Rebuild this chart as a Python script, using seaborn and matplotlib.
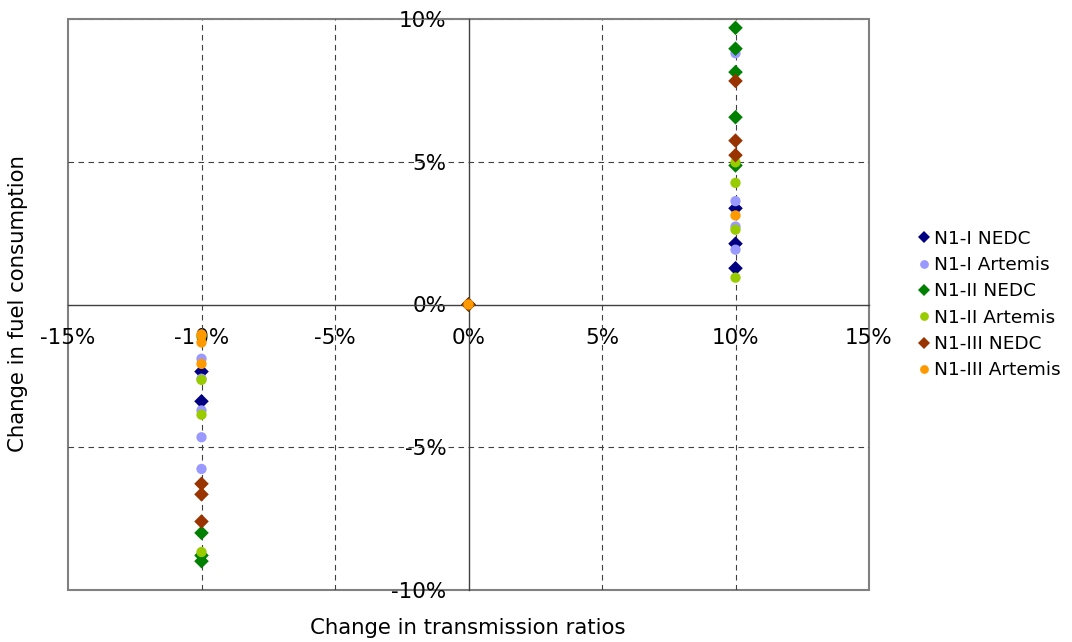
import numpy as np
import pandas as pd
import matplotlib
matplotlib.use("Agg")
import matplotlib.pyplot as plt
import seaborn as sns
from matplotlib.ticker import FuncFormatter

sns.set_style("white")
plt.rcParams['font.family'] = ['DejaVu Sans']
plt.rcParams['text.color'] = 'black'

series_names = ["N1-I NEDC", "N1-I Artemis", "N1-II NEDC", "N1-II Artemis", "N1-III NEDC", "N1-III Artemis"]
colors = ["#000080", "#9999FF", "#008000", "#99CC00", "#993300", "#FF9900"]
markers = ["D", "o", "D", "o", "D", "o"]

# x = change in transmission ratios (%), y = change in fuel consumption (%)
n1i_nedc_x = [-10, -10, 0, 10, 10, 10]
n1i_nedc_y = [-2.35, -3.39, 0.0, 3.37, 2.13, 1.27]
n1i_art_x = [-10, -10, -10, -10, -10, 0, 10, 10, 10, 10]
n1i_art_y = [-1.90, -2.60, -3.71, -4.65, -5.76, 0.0, 8.80, 3.62, 2.73, 1.92]
n1ii_nedc_x = [-10, -10, -10, 0, 10, 10, 10, 10, 10]
n1ii_nedc_y = [-8.00, -8.79, -8.99, 0.0, 9.69, 8.96, 8.14, 6.56, 4.87]
n1ii_art_x = [-10, -10, -10, -10, 0, 10, 10, 10, 10]
n1ii_art_y = [-1.10, -2.64, -3.86, -8.67, 0.0, 4.98, 4.26, 2.62, 0.94]
n1iii_nedc_x = [-10, -10, -10, 0, 10, 10, 10]
n1iii_nedc_y = [-6.28, -6.65, -7.60, 0.0, 7.83, 5.74, 5.23]
n1iii_art_x = [-10, -10, -10, 0, 10]
n1iii_art_y = [-1.05, -1.33, -2.08, 0.0, 3.12]

xs = [n1i_nedc_x, n1i_art_x, n1ii_nedc_x, n1ii_art_x, n1iii_nedc_x, n1iii_art_x]
ys = [n1i_nedc_y, n1i_art_y, n1ii_nedc_y, n1ii_art_y, n1iii_nedc_y, n1iii_art_y]

rows = []
for name, xv, yv in zip(series_names, xs, ys):
    for a, b in zip(xv, yv):
        rows.append({"x": a, "y": b, "series": name})
df = pd.DataFrame(rows)

fig = plt.figure(figsize=(10.72, 6.42), dpi=100)
ax = fig.add_axes([68/1072, 1 - 590/642, (869-68)/1072, (590-19)/642])

# grid
for v in [-10, -5, 5, 10]:
    ax.axvline(v, color="#404040", lw=0.8, ls=(0, (5, 4)), zorder=1)
for v in [-5, 5]:
    ax.axhline(v, color="#404040", lw=0.8, ls=(0, (5, 4)), zorder=1)
for v in [-10, 10]:
    ax.axhline(v, color="#808080", lw=0.8, ls=(0, (5, 4)), zorder=1)

sns.scatterplot(data=df, x="x", y="y", hue="series", style="series",
                hue_order=series_names, style_order=series_names,
                palette=dict(zip(series_names, colors)),
                markers=dict(zip(series_names, markers)),
                s=55, edgecolor="none", linewidth=0, ax=ax, zorder=3, legend=True)

ax.set_xlim(-15, 15)
ax.set_ylim(-10, 10)
ax.set_xticks([-15, -10, -5, 0, 5, 10, 15])
ax.set_yticks([-10, -5, 0, 5, 10])
fmt = FuncFormatter(lambda v, p: f"{int(round(v))}%")
ax.xaxis.set_major_formatter(fmt)
ax.yaxis.set_major_formatter(fmt)

ax.spines['left'].set_position(('data', 0))
ax.spines['bottom'].set_position(('data', 0))
ax.spines['right'].set_visible(False)
ax.spines['top'].set_visible(False)
for s in ['left', 'bottom']:
    ax.spines[s].set_color("#404040")
    ax.spines[s].set_linewidth(1.0)
    ax.spines[s].set_zorder(2)
ax.patch.set_edgecolor("#808080")
ax.patch.set_linewidth(1.5)

ax.tick_params(axis='both', length=0, labelsize=15.5, colors="black")
ax.tick_params(axis='x', pad=17)
ax.tick_params(axis='y', pad=16)

ax.set_xlabel("")
ax.set_ylabel("")
fig.text(468/1072, 1 - 628/642, "Change in transmission ratios", ha="center", va="center",
         fontsize=15.3, color="black")
fig.text(18/1072, 1 - 304/642, "Change in fuel consumption", ha="center", va="center",
         rotation=90, fontsize=15.3, color="black")

leg = ax.legend(loc="center left", bbox_to_anchor=(1.047, 0.5), frameon=False,
                fontsize=13.3, handletextpad=0.0, labelspacing=0.45, markerscale=0.85,
                handlelength=1.1, borderaxespad=0)
for t in leg.get_texts():
    t.set_color("black")

fig.savefig("out.png", dpi=100)
